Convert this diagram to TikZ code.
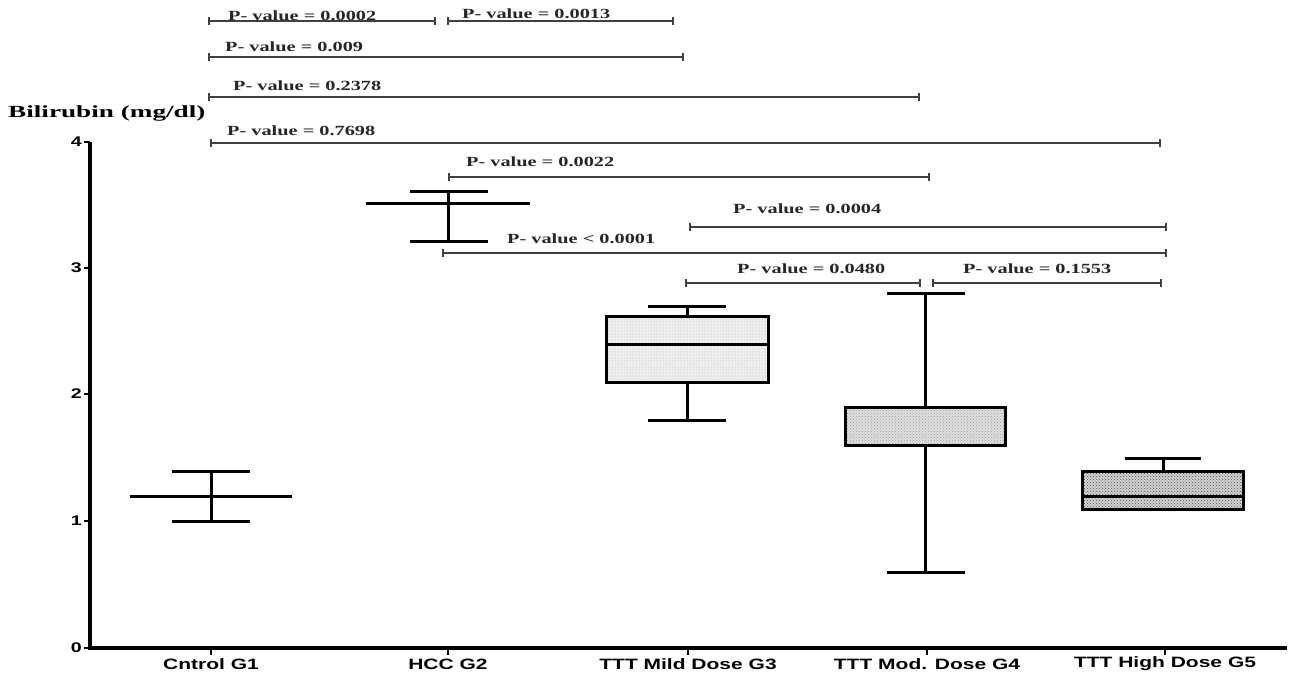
\documentclass[tikz,border=0pt]{standalone}
\usepackage{fontspec}
\setmainfont{Liberation Serif}
\newfontfamily\pvfont[FakeStretch=1.45]{Liberation Serif}
\newfontfamily\ylfont[FakeStretch=1.6]{Liberation Serif}
\newfontfamily\labfont[FakeStretch=1.4]{Liberation Sans}
\usetikzlibrary{patterns}
\tikzset{
  axisline/.style={line width=3.2pt},
  whisk/.style={line width=3pt},
  boxst/.style={line width=3pt},
  brk/.style={line width=1.3pt, black!75},
  pval/.style={font=\pvfont\bfseries\fontsize{14}{14}\selectfont, anchor=west, inner sep=0pt, text=black!85},
  grp/.style={font=\labfont\bfseries\fontsize{15}{15}\selectfont, inner sep=0pt},
  ytick/.style={font=\labfont\bfseries\fontsize{14}{14}\selectfont, anchor=east, inner sep=0pt},
}
\newcommand\pbr[7]{%
  \draw[brk] (#1,#3) -- (#2,#3);
  \draw[brk] (#1,#3-4) -- (#1,#3+4);
  \draw[brk] (#2,#3-4) -- (#2,#3+4);
  \node[pval] (#7) at (#4,#5) {P- value #6};}
\begin{document}
\begin{tikzpicture}[x=1pt,y=-1pt]
\useasboundingbox (0,0) rectangle (1289,676);
% axes
\draw[axisline] (90,142) -- (90,648) -- (1287,648);
\foreach \v/\yy in {0/648,1/521,2/394,3/268,4/142}{
  \draw[line width=1.5pt] (84,\yy) -- (90,\yy);
  \node[ytick] (yt\v) at (82,\yy) {\v};
}
\node[font=\ylfont\bfseries\fontsize{17}{17}\selectfont, anchor=west, inner sep=0pt] (ylab) at (8,113) {Bilirubin (mg/dl)};
% x ticks and labels
\foreach \xx/\nm/\lab in {211/g1/Cntrol G1,448/g2/HCC G2,688/g3/TTT Mild Dose G3,927/g4/TTT Mod. Dose G4,1165/g5/TTT High Dose G5}{
  \draw[line width=1.5pt] (\xx,648) -- (\xx,655);
  \node[grp] (\nm) at (\xx,664) {\lab};
}
% G1
\draw[whisk] (211,471) -- (211,521);
\draw[whisk] (172,471) -- (250,471);
\draw[whisk] (172,521) -- (250,521);
\draw[whisk] (130,496) -- (292,496);
% G2
\draw[whisk] (448,192) -- (448,242);
\draw[whisk] (410,192) -- (488,192);
\draw[whisk] (410,242) -- (488,242);
\draw[whisk] (366,204) -- (530,204);
% G3
\draw[whisk] (687,316) -- (687,306);
\draw[whisk] (648,306) -- (726,306);
\draw[whisk] (687,382) -- (687,420);
\draw[whisk] (648,420) -- (726,420);
\fill[gray!12] (606,316) rectangle (768,382);
\fill[pattern=dots, pattern color=gray!70] (606,316) rectangle (768,382);
\draw[boxst] (606,316) rectangle (768,382);
\draw[boxst] (606,344) -- (768,344);
% G4
\draw[whisk] (925,407) -- (925,293);
\draw[whisk] (887,293) -- (965,293);
\draw[whisk] (925,445) -- (925,572);
\draw[whisk] (887,572) -- (965,572);
\fill[gray!25] (845,407) rectangle (1005,445);
\fill[pattern=crosshatch dots, pattern color=gray!80] (845,407) rectangle (1005,445);
\draw[boxst] (845,407) rectangle (1005,445);
% G5
\draw[whisk] (1163,471) -- (1163,458);
\draw[whisk] (1125,458) -- (1201,458);
\fill[gray!35] (1082,471) rectangle (1243,509);
\fill[pattern=crosshatch dots, pattern color=black!70] (1082,471) rectangle (1243,509);
\draw[boxst] (1082,471) rectangle (1243,509);
\draw[boxst] (1082,496) -- (1243,496);
% p-value brackets
\pbr{209}{435}{21}{228}{16}{= 0.0002}{p1}
\pbr{448}{673}{21}{462}{14}{= 0.0013}{p2}
\pbr{209}{683}{57}{225}{47}{= 0.009}{p3}
\pbr{209}{919}{97}{233}{86}{= 0.2378}{p4}
\pbr{211}{1160}{143}{227}{131}{= 0.7698}{p5}
\pbr{449}{929}{177}{466}{162}{= 0.0022}{p6}
\pbr{690}{1166}{227}{733}{209}{= 0.0004}{p7}
\pbr{443}{1166}{253}{507}{239}{< 0.0001}{p8}
\pbr{686}{920}{283}{737}{269}{= 0.0480}{p9}
\pbr{933}{1161}{283}{963}{269}{= 0.1553}{p10}
\end{tikzpicture}
\end{document}
